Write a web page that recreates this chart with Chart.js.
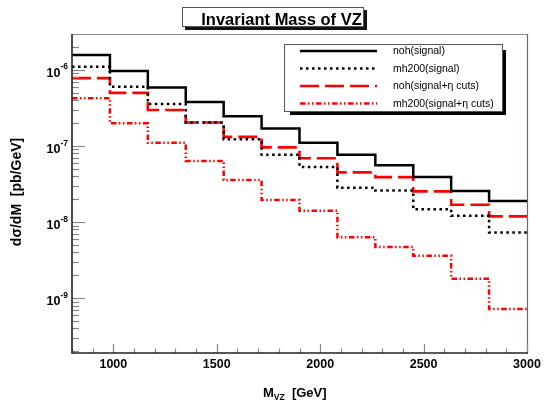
<!DOCTYPE html>
<html><head><meta charset="utf-8">
<script src="https://cdn.jsdelivr.net/npm/chart.js@4"></script>
<style>html,body{margin:0;padding:0;background:#fff;} #wrap{width:544px;height:401px;position:relative}</style>
</head><body><div id="wrap"><canvas id="c" width="544" height="401"></canvas></div>
<script>
// ---- data ----
const binEdges = [800, 983.3, 1166.7, 1350, 1533.3, 1716.7, 1900, 2083.3, 2266.7, 2450, 2633.3, 2816.7, 3000];
const nohSignal   = [1.57e-6, 9.7e-7, 5.9e-7, 3.8e-7, 2.46e-7, 1.7e-7, 1.1e-7, 7.7e-8, 5.6e-8, 3.9e-8, 2.57e-8, 1.9e-8];
const mh200Signal = [1.1e-6, 6.0e-7, 3.57e-7, 2.04e-7, 1.23e-7, 7.7e-8, 5.3e-8, 2.83e-8, 2.6e-8, 1.47e-8, 1.21e-8, 7.3e-9];
const nohCuts     = [7.8e-7, 5.0e-7, 2.98e-7, 2.04e-7, 1.32e-7, 9.6e-8, 6.9e-8, 4.5e-8, 3.9e-8, 2.53e-8, 1.69e-8, 1.19e-8];
const mh200Cuts   = [4.25e-7, 1.99e-7, 1.1e-7, 6.35e-8, 3.57e-8, 1.95e-8, 1.41e-8, 6.3e-9, 4.7e-9, 3.6e-9, 1.8e-9, 7.2e-10];
const seriesNames = ['noh(signal)', 'mh200(signal)', 'noh(signal+η cuts)', 'mh200(signal+η cuts)'];
const xTickLabels = [1000, 1500, 2000, 2500, 3000];
const yTickExponents = [-6, -7, -8, -9];
const chartTitle = 'Invariant Mass of VZ';

const FONT = '"Liberation Sans", Arial, Helvetica, sans-serif';

function stepData(vals) {
  return binEdges.map((x, i) => ({ x: x, y: vals[Math.min(i, vals.length - 1)] }));
}

const styles = [
  { color: '#000000', dash: [], width: 2.5 },
  { color: '#000000', dash: [2.5, 3.5], width: 2.5 },
  { color: '#ff0000', dash: [19, 6], width: 2.6 },
  { color: '#ff0000', dash: [5.5, 2.5, 1.5, 2.5, 1.5, 2.5], width: 2.5 }
];
const seriesVals = [nohSignal, mh200Signal, nohCuts, mh200Cuts];

const datasets = seriesVals.map((v, i) => ({
  label: seriesNames[i],
  data: stepData(v),
  stepped: 'before',
  borderColor: styles[i].color,
  borderDash: styles[i].dash,
  borderWidth: styles[i].width,
  pointRadius: 0,
  fill: false,
  tension: 0
}));

const decorPlugin = {
  id: 'decor',
  afterDatasetsDraw(chart) {
    const ctx = chart.ctx;
    const a = chart.chartArea;
    const xs = chart.scales.x, ys = chart.scales.y;
    ctx.save();
    // frame top & right
    ctx.lineWidth = 1.2;
    ctx.strokeStyle = '#8c8c8c';
    ctx.beginPath(); ctx.moveTo(a.left, a.top + 0.5); ctx.lineTo(a.right, a.top + 0.5); ctx.stroke();
    ctx.strokeStyle = '#7a6060';
    ctx.beginPath(); ctx.moveTo(a.right + 0.5, a.top); ctx.lineTo(a.right + 0.5, a.bottom); ctx.stroke();
    // y minor/major ticks (inside)
    ctx.strokeStyle = '#888888';
    ctx.lineWidth = 1.2;
    for (let e = -10; e <= -5; e++) {
      for (let m = 1; m <= 9; m++) {
        const v = m * Math.pow(10, e);
        if (v < ys.min || v > ys.max) continue;
        const y = Math.round(ys.getPixelForValue(v)) + 0.5;
        const len = m === 1 ? 13 : 7;
        ctx.beginPath(); ctx.moveTo(a.left, y); ctx.lineTo(a.left + len, y); ctx.stroke();
      }
    }
    // x ticks
    for (let v = 800; v <= 3000; v += 100) {
      const x = Math.round(xs.getPixelForValue(v)) + 0.5;
      const len = (v % 500 === 0) ? 9 : 4.5;
      ctx.beginPath(); ctx.moveTo(x, a.bottom); ctx.lineTo(x, a.bottom - len); ctx.stroke();
    }
    // axis lines
    ctx.strokeStyle = '#222222';
    ctx.lineWidth = 1.6;
    ctx.beginPath(); ctx.moveTo(a.left, a.top); ctx.lineTo(a.left, a.bottom); ctx.lineTo(a.right + 1, a.bottom); ctx.stroke();

    // x tick labels
    ctx.fillStyle = '#000';
    ctx.font = 'bold 12.5px ' + FONT;
    ctx.textAlign = 'center'; ctx.textBaseline = 'middle';
    xTickLabels.forEach(v => {
      ctx.fillText(String(v), xs.getPixelForValue(v), 364.5);
    });
    // y tick labels 10^e
    yTickExponents.forEach(e => {
      const y = ys.getPixelForValue(Math.pow(10, e));
      const sup = String(e).replace('-', '\u2212').replace('\u2212', '-');
      ctx.font = 'bold 8.5px ' + FONT;
      const sw = ctx.measureText(sup).width;
      ctx.textAlign = 'right'; ctx.textBaseline = 'alphabetic';
      ctx.fillText(sup, 68, y - 0.5);
      ctx.font = 'bold 12.5px ' + FONT;
      ctx.fillText('10', 68 - sw, y + 7);
    });
    // y axis title
    ctx.save();
    ctx.translate(21, 192);
    ctx.rotate(-Math.PI / 2);
    ctx.font = 'bold 14px ' + FONT;
    ctx.textAlign = 'center'; ctx.textBaseline = 'alphabetic';
    ctx.fillText('d\u03c3/dM  [pb/GeV]', 0, 0);
    ctx.restore();
    // x axis title with subscript
    ctx.textAlign = 'left'; ctx.textBaseline = 'alphabetic';
    let xx = 263;
    ctx.font = 'bold 13px ' + FONT;
    ctx.fillText('M', xx, 397); xx += ctx.measureText('M').width;
    ctx.font = 'bold 8.5px ' + FONT;
    ctx.fillText('VZ', xx, 400); xx += ctx.measureText('VZ').width;
    ctx.font = 'bold 13px ' + FONT;
    ctx.fillText('  [GeV]', xx, 397);

    // title box
    ctx.fillStyle = '#111';
    ctx.fillRect(185, 10, 182, 20);
    ctx.fillStyle = '#fff';
    ctx.fillRect(182, 7, 182, 20);
    ctx.strokeStyle = '#555'; ctx.lineWidth = 1;
    ctx.strokeRect(182.5, 7.5, 181, 19);
    ctx.fillStyle = '#000';
    ctx.font = 'bold 16.5px ' + FONT;
    ctx.textAlign = 'center';
    ctx.fillText(chartTitle, 281.5, 25);

    // legend box
    ctx.fillStyle = '#000';
    ctx.fillRect(290, 50, 216, 65);
    ctx.fillStyle = '#fff';
    ctx.fillRect(284, 44, 219, 68);
    ctx.strokeStyle = '#555'; ctx.lineWidth = 1;
    ctx.strokeRect(284.5, 44.5, 218, 67);
    const rows = [51, 68.5, 86, 103.5];
    chart.data.datasets.forEach((ds, i) => {
      ctx.strokeStyle = ds.borderColor;
      ctx.lineWidth = ds.borderWidth;
      ctx.setLineDash(ds.borderDash);
      ctx.beginPath(); ctx.moveTo(300, rows[i]); ctx.lineTo(377, rows[i]); ctx.stroke();
      ctx.setLineDash([]);
      ctx.fillStyle = '#000';
      ctx.font = '10.5px ' + FONT;
      ctx.textAlign = 'left'; ctx.textBaseline = 'middle';
      ctx.fillText(ds.label, 393, rows[i] + 0.5);
    });
    ctx.restore();
  }
};

new Chart(document.getElementById('c'), {
  type: 'line',
  data: { datasets: datasets },
  options: {
    responsive: false,
    animation: false,
    events: [],
    layout: { padding: { left: 0, right: 17, top: 34, bottom: 0 } },
    plugins: { legend: { display: false }, tooltip: { enabled: false }, title: { display: false } },
    scales: {
      x: {
        type: 'linear', min: 800, max: 3000,
        grid: { display: false }, border: { display: false },
        ticks: { display: false },
        afterFit(s) { s.height = 48; }
      },
      y: {
        type: 'logarithmic', min: 1.9e-10, max: 2.97e-6,
        grid: { display: false }, border: { display: false },
        ticks: { display: false },
        afterFit(s) { s.width = 72; }
      }
    }
  },
  plugins: [decorPlugin]
});
</script>
</body></html>
